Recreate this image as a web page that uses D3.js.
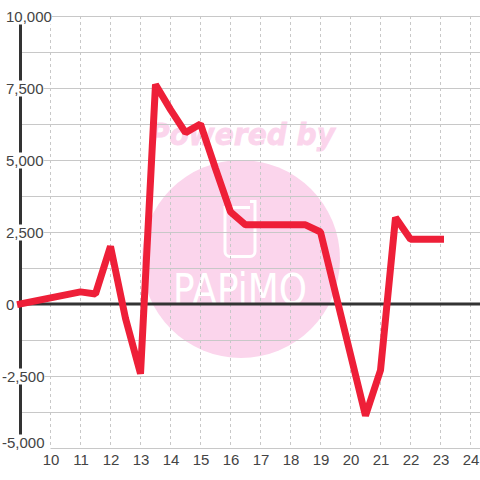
<!DOCTYPE html>
<html>
<head>
<meta charset="utf-8">
<script src="https://cdn.jsdelivr.net/npm/d3@7"></script>
<style>
    html, body { margin: 0; padding: 0; background: #fff; }
    svg { display: block; font-family: "Liberation Sans", sans-serif; }
</style>
</head>
<body>
<div id="chart"></div>
<script>
var hours = [9, 11, 11.5, 12, 12.5, 13, 13.5, 14, 14.5, 15, 15.5, 16, 16.5, 17, 18, 18.5, 19, 20.5, 21, 21.5, 22, 23];
var values = [0, 420, 350, 2000, -500, -2420, 7620, 6750, 5950, 6250, 4700, 3200, 2750, 2750, 2750, 2750, 2500, -3880, -2300, 3000, 2250, 2250];
var xTicks = [10, 11, 12, 13, 14, 15, 16, 17, 18, 19, 20, 21, 22, 23, 24];
var xGrid = [10, 11, 12, 13, 14, 15, 16, 17, 18, 19, 20, 21, 22, 23, 24];
var yLabels = [10000, 7500, 5000, 2500, 0, -2500, -5000];
var yGrid = [10000, 8750, 7500, 6250, 5000, 3750, 2500, 1250, -1250, -2500, -3750, -5000];

var width = 480;
var height = 480;

var x = d3.scaleLinear().domain([9, 25]).range([20.5, 500.5]);
var y = d3.scaleLinear().domain([-5000, 10000]).range([448, 16]);

var svg = d3.select("#chart").append("svg")
    .attr("width", width)
    .attr("height", height)
    .attr("viewBox", "0 0 " + width + " " + height);

// watermark sits under everything else
var mark = svg.append("g").attr("class", "watermark");
mark.append("circle")
    .attr("cx", 241)
    .attr("cy", 259)
    .attr("r", 99)
    .attr("fill", "#fbd5ec");
mark.append("text")
    .text("Powered by")
    .attr("x", 242)
    .attr("y", 145)
    .attr("text-anchor", "middle")
    .attr("font-size", 31)
    .attr("font-weight", "bold")
    .attr("font-style", "italic")
    .attr("font-family", "'DejaVu Sans', sans-serif")
    .attr("textLength", 186)
    .attr("lengthAdjust", "spacingAndGlyphs")
    .attr("fill", "#fbd5ec")
    .attr("stroke", "#fbd5ec")
    .attr("stroke-width", 0.8);
mark.append("path")
    .attr("d", "M250,201.5h5v50a5,5 0 0 1 -5,5h-20a5,5 0 0 1 -5,-5v-44h25")
    .attr("fill", "none")
    .attr("stroke", "#fff")
    .attr("stroke-width", 3);
mark.append("text")
    .text("PAPiMO")
    .attr("x", 240)
    .attr("y", 304)
    .attr("text-anchor", "middle")
    .attr("font-size", 43)
    .attr("textLength", 134)
    .attr("lengthAdjust", "spacingAndGlyphs")
    .attr("font-family", "'DejaVu Sans', sans-serif")
    .attr("fill", "#fff");

// grid
svg.append("g").selectAll("line")
    .data(yGrid)
    .enter().append("line")
    .attr("x1", function (d) { return d === -5000 ? x(10) : 20; })
    .attr("x2", width)
    .attr("y1", function (d) { return y(d) + 0.5; })
    .attr("y2", function (d) { return y(d) + 0.5; })
    .attr("stroke", "#c8c8c8");

svg.append("g").selectAll("line")
    .data(xGrid)
    .enter().append("line")
    .attr("x1", function (d) { return x(d); })
    .attr("x2", function (d) { return x(d); })
    .attr("y1", 16)
    .attr("y2", 448)
    .attr("stroke", "#c8c8c8")
    .attr("stroke-dasharray", "3,3");

// axis lines
svg.append("line")
    .attr("x1", x(9))
    .attr("x2", x(9))
    .attr("y1", 16)
    .attr("y2", 448)
    .attr("stroke", "#333")
    .attr("stroke-width", 3);
svg.append("line")
    .attr("x1", x(9))
    .attr("x2", width)
    .attr("y1", y(0))
    .attr("y2", y(0))
    .attr("stroke", "#333")
    .attr("stroke-width", 3);

// y labels with a white plate that breaks the axis
var yAxis = d3.axisLeft(y)
    .tickValues(yLabels)
    .tickSize(0)
    .tickFormat(function (d) { return d3.format(",")(d).replace("\u2212", "-"); });

var yG = svg.append("g").call(yAxis);
yG.select(".domain").remove();
yG.selectAll("text")
    .attr("x", function (d) { return d < 0 ? 2 : 6; })
    .attr("y", function (d) { return d === -5000 ? -6 : 0; })
    .attr("dy", "0.35em")
    .attr("text-anchor", "start")
    .attr("font-size", 15)
    .attr("font-family", "'Liberation Sans', sans-serif")
    .attr("fill", "#444");
yG.selectAll(".tick").insert("rect", "text")
    .attr("x", function (d) { return d < 0 ? 2 : 6; })
    .attr("y", function (d) { return d === -5000 ? -14 : -8; })
    .attr("height", 16)
    .attr("fill", "#fff")
    .attr("width", function () {
        return this.parentNode.querySelector("text").getComputedTextLength();
    });

var xAxis = d3.axisBottom(x)
    .tickValues(xTicks)
    .tickSize(0)
    .tickPadding(6);

var xG = svg.append("g")
    .attr("transform", "translate(0,448)")
    .call(xAxis);
xG.select(".domain").remove();
xG.selectAll("text")
    .attr("font-size", 15)
    .attr("font-family", "'Liberation Sans', sans-serif")
    .attr("fill", "#444");

// the series
var line = d3.line()
    .x(function (d) { return x(d); })
    .y(function (d, i) { return y(values[i]); });

svg.append("path")
    .attr("d", line(hours))
    .attr("fill", "none")
    .attr("stroke", "#ee1f38")
    .attr("stroke-width", 7)
    .attr("stroke-linejoin", "bevel")
    .attr("stroke-linecap", "square");
</script>
</body>
</html>
